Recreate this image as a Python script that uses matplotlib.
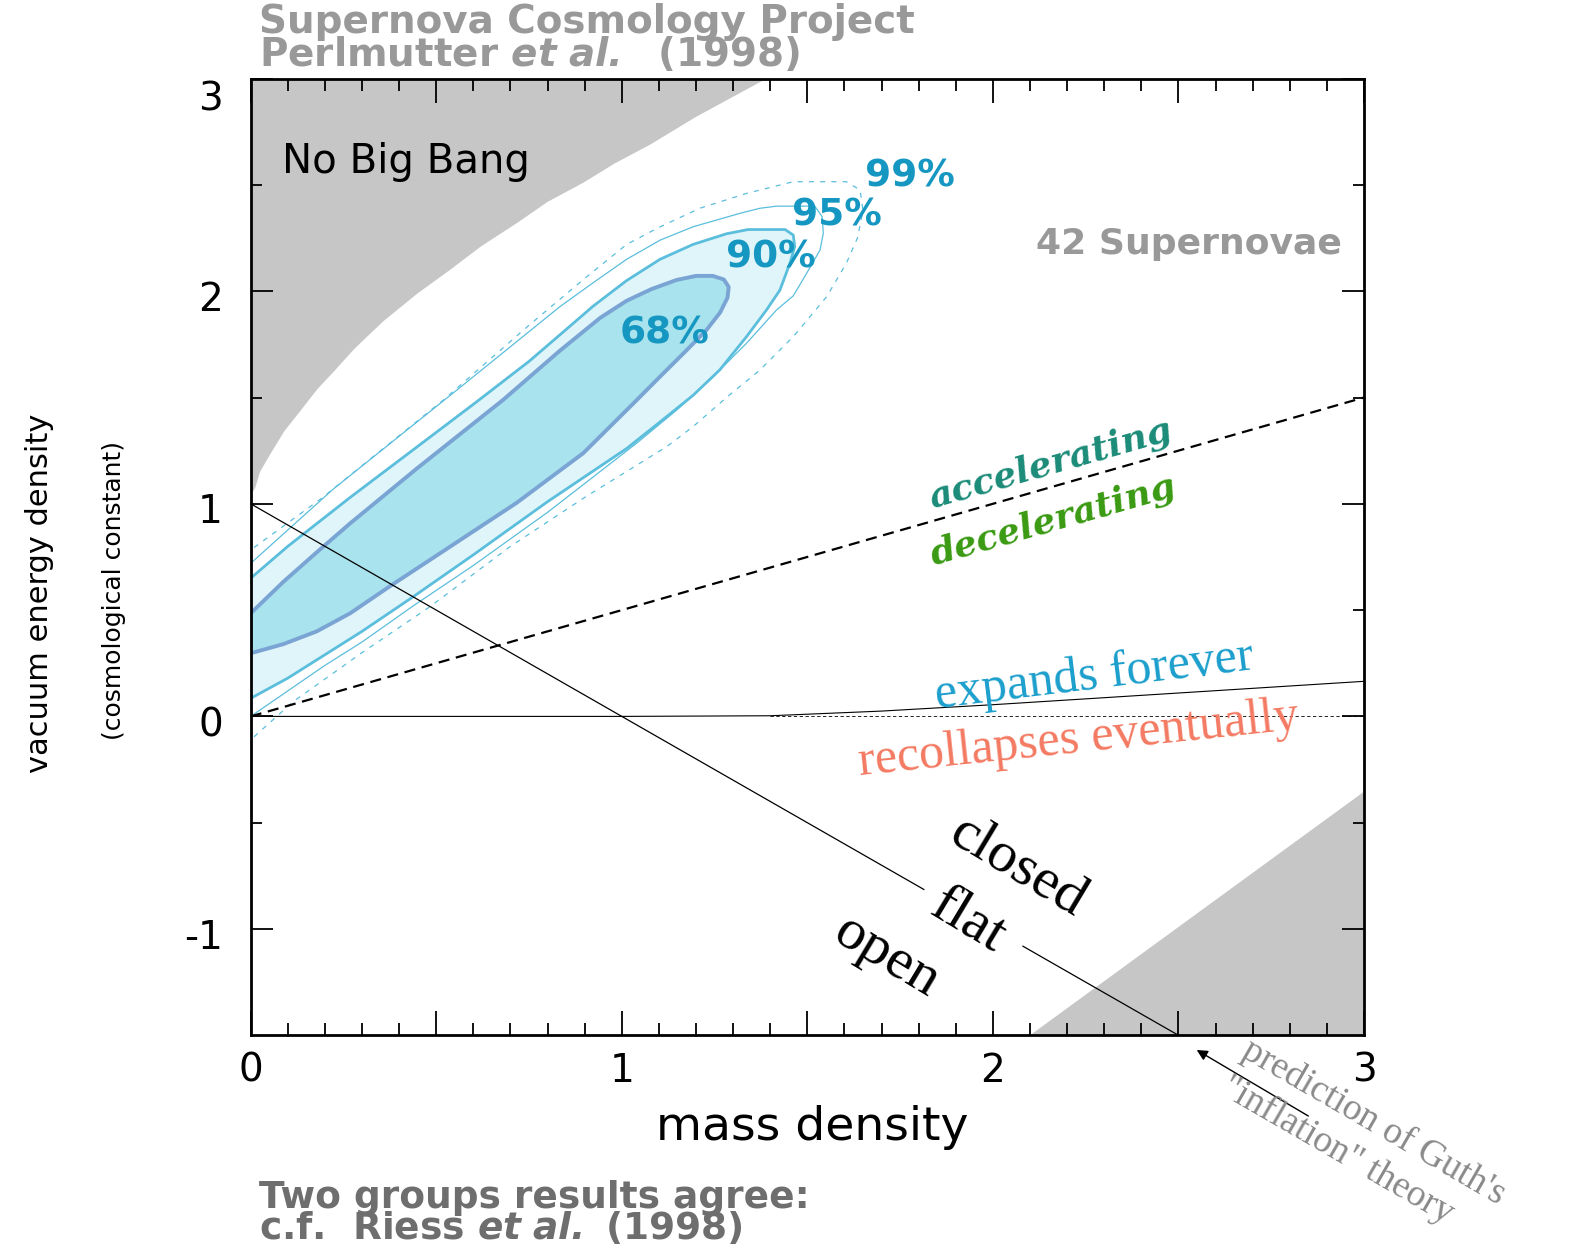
import numpy as np
import matplotlib
matplotlib.use("Agg")
import matplotlib.pyplot as plt
from matplotlib import font_manager
from matplotlib.mathtext import MathTextParser
from matplotlib.transforms import ScaledTranslation

# ---- data -------------------------------------------------------------- #
# "No Big Bang" boundary (upper-left grey region)
nbb_x = [0.0, 0.012, 0.025, 0.052, 0.09, 0.133, 0.18, 0.223, 0.28, 0.357, 0.45,
         0.537, 0.62, 0.717, 0.8, 0.896, 0.98, 1.076, 1.2, 1.39]
nbb_y = [1.04, 1.074, 1.15, 1.231, 1.34, 1.435, 1.54, 1.62, 1.73, 1.858, 1.99,
         2.10, 2.21, 2.32, 2.42, 2.51, 2.60, 2.689, 2.82, 3.0]
# lower-right grey region edge
young_x = [2.1, 3.0]
young_y = [-1.5, -0.354]

# confidence contours (closed outlines)
c68_x = [-0.06, 0.0, 0.088, 0.178, 0.268, 0.375, 0.537, 0.717, 0.896, 1.03, 1.103,
         1.175, 1.228, 1.265, 1.285, 1.288, 1.275, 1.245, 1.2, 1.148, 1.08, 1.013,
         0.942, 0.833, 0.681, 0.447, 0.268, 0.178, 0.088, 0.0, -0.06]
c68_y = [0.27, 0.297, 0.34, 0.40, 0.485, 0.612, 0.798, 1.005, 1.238, 1.47, 1.598,
         1.723, 1.817, 1.90, 1.97, 2.02, 2.055, 2.072, 2.072, 2.053, 2.01, 1.955,
         1.875, 1.72, 1.49, 1.165, 0.908, 0.772, 0.633, 0.485, 0.40]

c90_x = [-0.06, 0.0, 0.1, 0.2, 0.3, 0.438, 0.6, 0.8, 1.013, 1.103, 1.192, 1.264,
         1.336, 1.39, 1.426, 1.453, 1.466, 1.462, 1.44, 1.34, 1.282, 1.192, 1.103,
         1.013, 0.923, 0.85, 0.75, 0.609, 0.45, 0.268, 0.1, 0.0, -0.06]
c90_y = [0.02, 0.085, 0.18, 0.29, 0.40, 0.563, 0.76, 1.01, 1.26, 1.385, 1.51, 1.63,
         1.786, 1.912, 2.005, 2.131, 2.21, 2.264, 2.29, 2.29, 2.27, 2.22, 2.15,
         2.05, 1.93, 1.82, 1.67, 1.48, 1.27, 1.03, 0.80, 0.65, 0.56]

c95_x = [-0.06, 0.0, 0.1, 0.2, 0.3, 0.438, 0.6, 0.8, 1.04, 1.148, 1.237, 1.336,
         1.417, 1.462, 1.498, 1.534, 1.543, 1.54, 1.52, 1.417, 1.372, 1.318, 1.192,
         1.103, 1.013, 0.923, 0.833, 0.559, 0.223, 0.0, -0.06]
c95_y = [-0.06, 0.0, 0.12, 0.24, 0.35, 0.52, 0.71, 0.96, 1.285, 1.441, 1.582, 1.755,
         1.912, 1.978, 2.084, 2.193, 2.272, 2.35, 2.40, 2.40, 2.39, 2.366, 2.303,
         2.24, 2.15, 2.04, 1.927, 1.54, 1.07, 0.72, 0.64]

c99_x = [-0.06, 0.0, 0.115, 0.3, 0.483, 0.7, 0.9, 1.121, 1.192, 1.282, 1.372, 1.462,
         1.552, 1.605, 1.635, 1.65, 1.642, 1.605, 1.462, 1.336, 1.21, 1.1, 1.013,
         0.9, 0.75, 0.519, 0.191, 0.0, -0.06]
c99_y = [-0.2, -0.11, 0.07, 0.30, 0.516, 0.80, 1.03, 1.269, 1.363, 1.50, 1.629,
         1.786, 1.974, 2.131, 2.25, 2.38, 2.476, 2.515, 2.515, 2.46, 2.39, 2.30,
         2.22, 2.06, 1.84, 1.488, 1.026, 0.783, 0.70]

# reference lines
flat_x = [0.0, 1.814, 2.081, 2.5]
flat_y = [1.0, -0.814, -1.081, -1.5]
accel_x = [0.0, 3.0]
accel_y = [0.0, 1.5]
expand_x = [0.0, 1.0, 1.4, 1.7, 2.0, 2.5, 3.0]
expand_y = [0.0, 0.0, 0.003, 0.025, 0.055, 0.11, 0.165]
zero_x = [1.4, 3.0]
zero_y = [0.0, 0.0]

levels = ["68%", "90%", "95%", "99%"]
level_pos = [(1.115, 1.803), (1.403, 2.158), (1.579, 2.358), (1.776, 2.541)]

xticks = [0, 0.5, 1, 1.5, 2, 2.5, 3]
xticklabels = ["0", "", "1", "", "2", "", "3"]
yticks = [-1, 0, 1, 2, 3]
yticklabels = ["-1", "0", "1", "2", "3"]

# ---- style ------------------------------------------------------------- #
GREY = "#c6c6c6"
FILL68 = "#a9e3ed"
FILL90 = "#e0f5f9"
EDGE68 = "#7aa4d4"
CYAN = "#5bbedc"
PCT = "#1597c2"

W, H = 1577, 1251


def fx(px):
    return px / W


def fy(py):
    return 1 - py / H


try:
    font_manager.findfont("Liberation Sans Narrow", fallback_to_default=False)
    NARROW, ysz1, ysz2 = "Liberation Sans Narrow", 30, 25
except ValueError:
    NARROW, ysz1, ysz2 = "DejaVu Sans", 22, 18

try:
    MathTextParser("path").parse(r"$\mathbfit{et}$")
    ETAL = r"$\mathbfit{et\ al.}$"
except Exception:
    ETAL = r"$\mathit{et\ al.}$"

plt.rcParams["font.family"] = ["DejaVu Sans"]
plt.rcParams["mathtext.fontset"] = "dejavusans"

fig = plt.figure(figsize=(W / 100, H / 100), dpi=100)
ax = fig.add_axes([fx(250.7), fy(1035.3), (1364 - 250.7) / W, (1035.3 - 78.6) / H])
ax.set_xlim(0, 3)
ax.set_ylim(-1.5, 3)

# grey forbidden regions
ax.fill(nbb_x + [0.0], nbb_y + [3.0], color=GREY, lw=0, zorder=1)
ax.fill(young_x + [3.0], young_y + [-1.5], color=GREY, lw=0, zorder=1)

# contours
ax.fill(c90_x, c90_y, color=FILL90, lw=0, zorder=2)
ax.fill(c68_x, c68_y, color=FILL68, lw=0, zorder=2)
ax.plot(c99_x + c99_x[:1], c99_y + c99_y[:1], color=CYAN, lw=0.9,
        ls=(0, (4, 5)), zorder=3)
ax.plot(c95_x + c95_x[:1], c95_y + c95_y[:1], color=CYAN, lw=0.9, zorder=3)
ax.plot(c90_x + c90_x[:1], c90_y + c90_y[:1], color=CYAN, lw=2.0, zorder=3,
        solid_joinstyle="round")
ax.plot(c68_x + c68_x[:1], c68_y + c68_y[:1], color=EDGE68, lw=2.8, zorder=3,
        solid_joinstyle="round")

# black lines
ax.plot(flat_x[:2], flat_y[:2], color="k", lw=0.9, zorder=4)
ax.plot(flat_x[2:], flat_y[2:], color="k", lw=0.9, zorder=4)
ax.plot(accel_x, accel_y, color="k", lw=1.6, ls=(0, (5, 3)), zorder=4)
ax.plot(expand_x, expand_y, color="k", lw=0.8, zorder=4)
ax.plot(zero_x, zero_y, color="k", lw=0.6, ls=(0, (4, 3)), zorder=4)

# ticks and spines
ax.set_xticks(xticks)
ax.set_xticklabels(xticklabels)
ax.set_xticks(np.arange(0, 3.01, 0.1), minor=True)
ax.set_yticks(yticks)
ax.set_yticklabels(yticklabels)
ax.set_yticks([-0.5, 0.5, 1.5, 2.5], minor=True)
ax.tick_params(which="both", direction="in", top=True, right=True, width=1.3,
               labelsize=28)
ax.tick_params(axis="x", which="major", length=17, pad=12)
ax.tick_params(axis="x", which="minor", length=8.6)
ax.tick_params(axis="y", which="major", length=16, pad=20)
ax.tick_params(axis="y", which="minor", length=8)
for s in ax.spines.values():
    s.set_linewidth(2.0)
    s.set_zorder(6)
# y labels sit a little below their ticks in the reference
for lbl, dy in zip(ax.get_yticklabels(), [5, 5, 4, 5, 17]):
    lbl.set_transform(lbl.get_transform() + ScaledTranslation(0, -dy / 100, fig.dpi_scale_trans))

# labels inside the axes
ax.text(0.083, 2.608, "No Big Bang", fontsize=29, ha="left", va="center", zorder=5)
ax.text(2.941, 2.22, "42 Supernovae", fontsize=26, fontweight="bold",
        color="#999999", ha="right", va="center", zorder=5)
for lab, (lx, ly) in zip(levels, level_pos):
    ax.text(lx, ly, lab, fontsize=27, fontweight="bold", color=PCT,
            ha="center", va="center", zorder=5)

serif = ["Liberation Serif", "DejaVu Serif"]
ax.text(2.155, 1.19, "accelerating", family="DejaVu Serif", fontweight="bold",
        style="italic", fontsize=26, color="#1b8b78", rotation=16,
        ha="center", va="center", zorder=5)
ax.text(2.163, 0.92, "decelerating", family="DejaVu Serif", fontweight="bold",
        style="italic", fontsize=26, color="#3a9a12", rotation=16,
        ha="center", va="center", zorder=5)
ax.text(2.273, 0.19, "expands forever", family=serif, fontsize=36,
        color="#1b9fcc", rotation=7, ha="center", va="center", zorder=5)
ax.text(2.23, -0.111, "recollapses eventually", family=serif, fontsize=36,
        color="#f47a62", rotation=6, ha="center", va="center", zorder=5)
ax.text(2.068, -0.707, "closed", family=serif, fontsize=42, rotation=-31,
        ha="center", va="center", zorder=5)
ax.text(1.934, -0.958, "flat", family=serif, fontsize=42, rotation=-31,
        ha="center", va="center", zorder=5)
ax.text(1.714, -1.13, "open", family=serif, fontsize=42, rotation=-31,
        ha="center", va="center", zorder=5)

# axis titles
fig.text(fx(812), fy(1127), "mass density", fontsize=34, ha="center", va="center")
fig.text(fx(40), fy(593), "vacuum energy density", family=[NARROW, "DejaVu Sans"],
         fontsize=ysz1, rotation=90, ha="center", va="center")
fig.text(fx(113.6), fy(591), "(cosmological constant)", family=[NARROW, "DejaVu Sans"],
         fontsize=ysz2, rotation=90, ha="center", va="center")

# header and footer
fig.text(fx(259), fy(3), "Supernova Cosmology Project\nPerlmutter " + ETAL + "  (1998)",
         fontsize=28, fontweight="bold", color="#999999", ha="left", va="top",
         linespacing=0.8)
fig.text(fx(259), fy(1180), "Two groups results agree:\nc.f.  Riess " + ETAL + " (1998)",
         fontsize=27, fontweight="bold", color="#6e6e6e", ha="left", va="top",
         linespacing=0.8)

# inflation note with arrow
fig.text(fx(1254), fy(1033), "prediction of Guth's\n\"inflation\" theory",
         family=serif, fontsize=27, color="#8a8a8a", rotation=-30,
         rotation_mode="anchor", ha="left", va="top", linespacing=1.25)
ax.annotate("", xy=(1196.7, H - 1050), xycoords="figure pixels",
            xytext=(1308.3, H - 1116), textcoords="figure pixels",
            arrowprops=dict(arrowstyle="-|>", color="k", lw=1.0,
                            mutation_scale=16, shrinkA=0, shrinkB=0),
            annotation_clip=False)

fig.savefig("out.png", dpi=100)
